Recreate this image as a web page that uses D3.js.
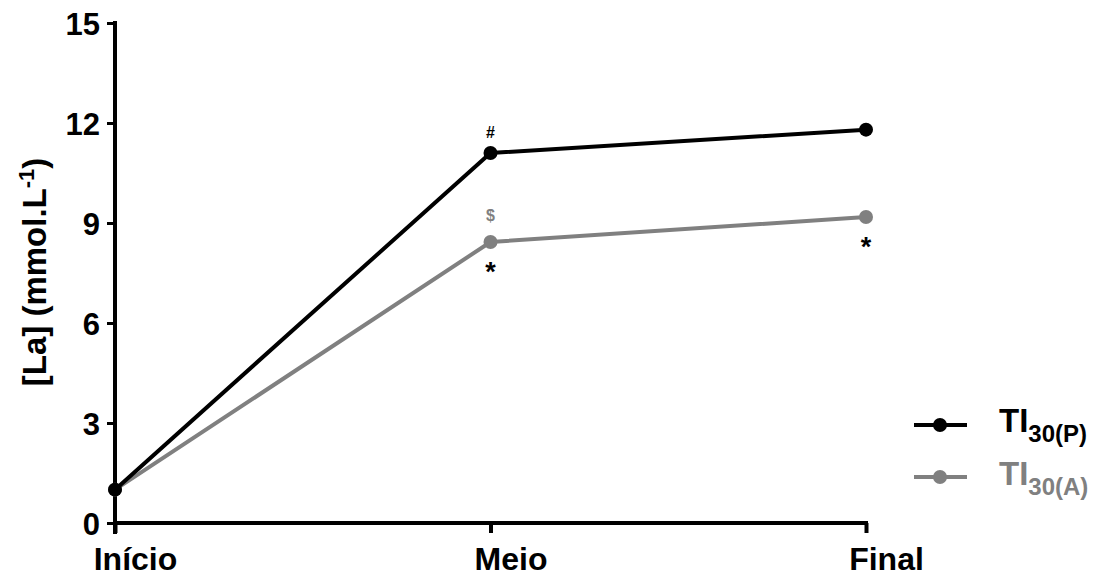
<!DOCTYPE html>
<html><head><meta charset="utf-8">
<script src="https://cdn.jsdelivr.net/npm/d3@7"></script>
<style>body{margin:0;background:#fff}svg{display:block}text{font-family:"Liberation Sans",Arial,sans-serif;font-weight:bold}</style>
</head><body>
<svg id="c" width="1098" height="577"></svg>
<script>
const categories = ["Início", "Meio", "Final"];
const seriesP = [1.0, 11.1, 11.8];
const seriesA = [1.0, 8.43, 9.18];
const yTicks = [0, 3, 6, 9, 12, 15];
const seriesNames = ["TI", "TI"];
const seriesSubs = ["30(P)", "30(A)"];
const colors = ["#000000", "#808080"];
const annotations = [
  {cat: "Meio", value: 11.1, text: "#", color: "#000", dy: -15, size: 16},
  {cat: "Meio", value: 8.43, text: "$", color: "#808080", dy: -21, size: 16},
  {cat: "Meio", value: 8.43, text: "*", color: "#000", dy: 39, size: 27},
  {cat: "Final", value: 9.18, text: "*", color: "#000", dy: 39, size: 27}
];

const svg = d3.select("#c");
const x = d3.scalePoint().domain(categories).range([115, 866]);
const y = d3.scaleLinear().domain([0, 15]).range([523, 23]);

// y axis
const ya = svg.append("g").attr("transform", "translate(115,0)")
  .call(d3.axisLeft(y).tickValues(yTicks).tickSize(8).tickSizeOuter(0).tickPadding(7));
ya.select(".domain").remove();
ya.append("line").attr("x1", 0).attr("x2", 0).attr("y1", 21).attr("y2", 534).attr("stroke", "#000").attr("stroke-width", 4);
ya.selectAll(".tick line").attr("stroke-width", 3);
ya.selectAll(".tick text").attr("font-size", 31).attr("fill", "#000").attr("dy", "0.36em");

// x axis
const xa = svg.append("g").attr("transform", "translate(0,523)")
  .call(d3.axisBottom(x).tickSize(10).tickSizeOuter(0));
xa.select(".domain").remove();
xa.append("line").attr("x1", 113).attr("x2", 868).attr("y1", 0).attr("y2", 0).attr("stroke", "#000").attr("stroke-width", 4);
xa.selectAll(".tick line").attr("stroke-width", 4);
xa.selectAll(".tick text").attr("font-size", 32).attr("fill", "#000").attr("y", 47).attr("x", 20).attr("dy", null);

// y title
svg.append("text").attr("transform", "translate(46,272) rotate(-90)")
  .attr("text-anchor", "middle").attr("font-size", 33).attr("fill", "#000")
  .html('[La] (mmol.L<tspan dy="-12" font-size="22">-1</tspan><tspan dy="12">)</tspan>');

const line = d3.line().x((d, i) => x(categories[i])).y(d => y(d));
[seriesA, seriesP].forEach((s, k) => {
  const c = k === 0 ? colors[1] : colors[0];
  svg.append("path").attr("d", line(s)).attr("fill", "none").attr("stroke", c).attr("stroke-width", 4);
  svg.selectAll(null).data(s).enter().append("circle")
    .attr("cx", (d, i) => x(categories[i])).attr("cy", d => y(d)).attr("r", 7).attr("fill", c);
});

annotations.forEach(a => {
  svg.append("text").attr("x", x(a.cat)).attr("y", y(a.value) + a.dy)
    .attr("text-anchor", "middle").attr("font-size", a.size).attr("fill", a.color).text(a.text);
});

// legend
[0, 1].forEach(k => {
  const ly = 425 + k * 52;
  svg.append("line").attr("x1", 914).attr("x2", 967).attr("y1", ly).attr("y2", ly).attr("stroke", colors[k]).attr("stroke-width", 4);
  svg.append("circle").attr("cx", 940).attr("cy", ly).attr("r", 7).attr("fill", colors[k]);
  svg.append("text").attr("x", 999).attr("y", 432 + k * 53).attr("font-size", 33).attr("fill", colors[k])
    .html(seriesNames[k] + '<tspan dy="10" font-size="24">' + seriesSubs[k] + '</tspan>');
});
</script>
</body></html>
